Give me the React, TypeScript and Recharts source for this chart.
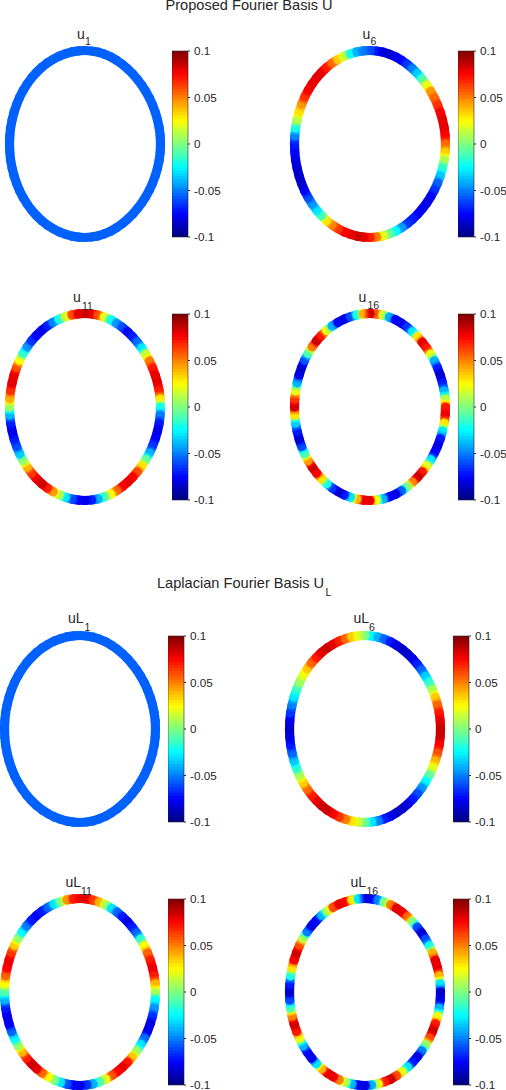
import { ScatterChart, Scatter, XAxis, YAxis, BarChart, Bar } from "recharts";

// ring nodes, clockwise from the top, one every 5 degrees along the ring
// the right half of the outline is a little flatter than the left
const ringX = [
  0, 6.6, 13.1, 19.4, 25.6, 31.5, 37.2, 42.5, 47.6, 52.3, 56.7, 60.7,
  64.4, 67.6, 70.3, 72.5, 74.2, 75.2, 75.5, 75.2, 74.2, 72.5, 70.3, 67.6,
  64.4, 60.7, 56.7, 52.3, 47.6, 42.5, 37.2, 31.5, 25.6, 19.4, 13.1, 6.6,
  0, -6.6, -13.1, -19.5, -25.8, -31.9, -37.8, -43.3, -48.5, -53.4, -57.8, -61.8,
  -65.4, -68.4, -70.9, -72.9, -74.4, -75.2, -75.5, -75.2, -74.4, -72.9, -70.9, -68.4,
  -65.4, -61.8, -57.8, -53.4, -48.5, -43.3, -37.8, -31.9, -25.8, -19.5, -13.1, -6.6,
];
const ringY = [
  93.5, 93, 91.9, 89.8, 87.2, 83.7, 79.8, 75.2, 70.2, 64.8, 58.9, 52.7,
  46.1, 39, 31.7, 24.1, 16.2, 8.1, 0, -8.1, -16.2, -24.1, -31.7, -39,
  -46.1, -52.7, -58.9, -64.8, -70.2, -75.2, -79.8, -83.7, -87.2, -89.8, -91.9, -93,
  -93.5, -93.1, -92.1, -90.3, -87.9, -84.7, -81, -76.6, -71.6, -66.1, -60.1, -53.6,
  -46.8, -39.5, -32, -24.2, -16.2, -8.1, 0, 8.1, 16.2, 24.2, 32, 39.5,
  46.8, 53.6, 60.1, 66.1, 71.6, 76.6, 81, 84.7, 87.9, 90.3, 92.1, 93.1,
];

const u1 = [
  -0.056, -0.056, -0.056, -0.056, -0.056, -0.056, -0.056, -0.056, -0.056, -0.056, -0.056, -0.056,
  -0.056, -0.056, -0.056, -0.056, -0.056, -0.056, -0.056, -0.056, -0.056, -0.056, -0.056, -0.056,
  -0.056, -0.056, -0.056, -0.056, -0.056, -0.056, -0.056, -0.056, -0.056, -0.056, -0.056, -0.056,
  -0.056, -0.056, -0.056, -0.056, -0.056, -0.056, -0.056, -0.056, -0.056, -0.056, -0.056, -0.056,
  -0.056, -0.056, -0.056, -0.056, -0.056, -0.056, -0.056, -0.056, -0.056, -0.056, -0.056, -0.056,
  -0.056, -0.056, -0.056, -0.056, -0.056, -0.056, -0.056, -0.056, -0.056, -0.056, -0.056, -0.056,
];
const u6 = [
  -0.06, -0.07, -0.08, -0.085, -0.08, -0.075, -0.065, -0.05, -0.035, -0.01, 0.02, 0.045,
  0.055, 0.065, 0.075, 0.08, 0.08, 0.075, 0.055, 0.035, 0.01, -0.015, -0.035, -0.055,
  -0.065, -0.075, -0.08, -0.08, -0.075, -0.07, -0.065, -0.045, -0.025, -0.005, 0.02, 0.05,
  0.07, 0.08, 0.085, 0.08, 0.075, 0.065, 0.05, 0.03, -0.01, -0.03, -0.045, -0.06,
  -0.075, -0.085, -0.085, -0.085, -0.08, -0.075, -0.07, -0.05, -0.02, 0.01, 0.03, 0.045,
  0.065, 0.075, 0.08, 0.08, 0.08, 0.07, 0.055, 0.035, 0.015, -0.02, -0.04, -0.05,
];
const u11 = [
  0.085, 0.08, 0.06, 0.02, -0.02, -0.045, -0.06, -0.075, -0.07, -0.055, -0.03, 0.015,
  0.05, 0.07, 0.08, 0.08, 0.07, 0.03, -0.02, -0.05, -0.07, -0.08, -0.075, -0.065,
  -0.04, -0.005, 0.03, 0.06, 0.075, 0.08, 0.075, 0.055, 0.025, -0.01, -0.04, -0.07,
  -0.08, -0.075, -0.06, -0.03, 0.01, 0.045, 0.07, 0.085, 0.08, 0.065, 0.04, 0.005,
  -0.035, -0.06, -0.07, -0.08, -0.07, -0.04, 0.005, 0.04, 0.065, 0.08, 0.08, 0.06,
  0.025, -0.015, -0.045, -0.065, -0.075, -0.08, -0.07, -0.05, -0.02, 0.015, 0.06, 0.08,
];
const u16 = [
  0.085, 0.06, 0.015, -0.04, -0.075, -0.08, -0.065, -0.03, 0.03, 0.08, 0.07, 0.02,
  -0.04, -0.07, -0.085, -0.07, -0.04, 0.01, 0.07, 0.08, 0.03, -0.03, -0.07, -0.08,
  -0.075, -0.03, 0.02, 0.07, 0.085, 0.05, 0, -0.055, -0.08, -0.075, -0.04, 0.02,
  0.08, 0.08, 0.04, -0.03, -0.07, -0.085, -0.065, -0.02, 0.03, 0.075, 0.085, 0.045,
  -0.01, -0.06, -0.085, -0.07, -0.035, 0.03, 0.085, 0.065, 0.02, -0.04, -0.08, -0.085,
  -0.06, -0.01, 0.05, 0.085, 0.07, 0.02, -0.04, -0.075, -0.08, -0.06, -0.02, 0.04,
];
const uL6 = [
  0, -0.025, -0.04, -0.055, -0.07, -0.08, -0.085, -0.085, -0.08, -0.07, -0.055, -0.035,
  -0.015, 0.01, 0.035, 0.055, 0.07, 0.08, 0.085, 0.085, 0.075, 0.06, 0.04, 0.02,
  -0.005, -0.025, -0.045, -0.06, -0.07, -0.08, -0.085, -0.085, -0.08, -0.07, -0.05, -0.03,
  -0.005, 0.015, 0.03, 0.05, 0.065, 0.075, 0.085, 0.085, 0.08, 0.07, 0.055, 0.035,
  0.01, -0.015, -0.035, -0.055, -0.07, -0.08, -0.085, -0.08, -0.065, -0.05, -0.03, -0.015,
  0.005, 0.02, 0.035, 0.055, 0.07, 0.08, 0.085, 0.08, 0.07, 0.055, 0.035, 0.02,
];
const uL11 = [
  0.08, 0.08, 0.065, 0.04, 0.01, -0.03, -0.055, -0.07, -0.08, -0.07, -0.055, -0.015,
  0.025, 0.055, 0.07, 0.08, 0.07, 0.04, 0.01, -0.025, -0.045, -0.065, -0.08, -0.08,
  -0.055, -0.03, 0.005, 0.035, 0.07, 0.08, 0.075, 0.06, 0.02, -0.01, -0.04, -0.065,
  -0.08, -0.075, -0.06, -0.03, 0, 0.025, 0.055, 0.08, 0.085, 0.07, 0.04, 0.005,
  -0.025, -0.055, -0.075, -0.08, -0.07, -0.04, -0.01, 0.025, 0.055, 0.075, 0.08, 0.065,
  0.035, 0.005, -0.025, -0.05, -0.07, -0.075, -0.07, -0.055, -0.03, 0, 0.045, 0.07,
];
const uL16 = [
  -0.08, -0.075, -0.05, 0, 0.05, 0.08, 0.08, 0.055, 0, -0.06, -0.085, -0.06,
  -0.02, 0.04, 0.08, 0.08, 0.04, -0.03, -0.085, -0.08, -0.04, 0.02, 0.07, 0.085,
  0.06, 0.005, -0.05, -0.08, -0.07, -0.03, 0.02, 0.06, 0.085, 0.07, 0.02, -0.04,
  -0.08, -0.08, -0.04, 0.01, 0.05, 0.08, 0.08, 0.04, -0.03, -0.08, -0.075, -0.04,
  0.02, 0.07, 0.085, 0.05, -0.01, -0.06, -0.085, -0.07, -0.02, 0.03, 0.075, 0.085,
  0.06, 0.01, -0.05, -0.08, -0.075, -0.04, 0.01, 0.06, 0.08, 0.075, 0.03, -0.03,
];

const barTicks = [-0.1, -0.05, 0, 0.05, 0.1];
const barRange = [{ name: "u", range: [-0.1, 0.1] }];
const FONT = '"Liberation Sans", Arial, sans-serif';
const TEXT = "#262626";

const panels = [
  { id: "u1", base: "u", sub: "1", values: u1, cx: 85, cy: 144, barX: 172.3, barY: 51, lx: 77, ly: 39, sx: 85, sy: 45 },
  { id: "u6", base: "u", sub: "6", values: u6, cx: 369.7, cy: 143.5, barX: 458, barY: 51, lx: 362.5, ly: 39, sx: 370.5, sy: 45 },
  { id: "u11", base: "u", sub: "11", values: u11, cx: 85, cy: 407, barX: 172.3, barY: 314, lx: 73, ly: 302, sx: 82, sy: 310 },
  { id: "u16", base: "u", sub: "16", values: u16, cx: 369.7, cy: 407, barX: 458, barY: 314, lx: 358.5, ly: 302, sx: 367.5, sy: 309 },
  { id: "uL1", base: "uL", sub: "1", values: u1, cx: 80.3, cy: 729, barX: 168, barY: 636, lx: 68, ly: 623, sx: 84.5, sy: 631 },
  { id: "uL6", base: "uL", sub: "6", values: uL6, cx: 364.7, cy: 729, barX: 453, barY: 636, lx: 353.5, ly: 623, sx: 369, sy: 631 },
  { id: "uL11", base: "uL", sub: "11", values: uL11, cx: 80, cy: 992, barX: 168, barY: 899, lx: 65.5, ly: 887, sx: 81, sy: 895 },
  { id: "uL16", base: "uL", sub: "16", values: uL16, cx: 364.7, cy: 992, barX: 453, barY: 899, lx: 350.5, ly: 887, sx: 366.5, sy: 895 },
];

function clamp(v: number) {
  return Math.max(0, Math.min(1, v));
}

// MATLAB jet, t from 0 to 1
function jet(t: number): string {
  const r = clamp(1.5 - Math.abs(4 * t - 3));
  const g = clamp(1.5 - Math.abs(4 * t - 2));
  const b = clamp(1.5 - Math.abs(4 * t - 1));
  return `rgb(${Math.round(r * 255)},${Math.round(g * 255)},${Math.round(b * 255)})`;
}

function valueColor(v: number) {
  return jet(clamp((v + 0.1) / 0.2));
}

const levels = Array.from({ length: 64 }, (_, i) => i);
const blend = [0, 0.25, 0.5, 0.75, 1];

// one ring node: a thick stroke to the next node, shaded from this value to the next.
// the ring charts are drawn at one pixel per data unit
function Node(props: any) {
  const { cx, cy, payload } = props;
  const x2 = cx + payload.nx - payload.x;
  const y2 = cy - (payload.ny - payload.y);
  const gid = `${payload.id}-${payload.i}`;
  return (
    <g>
      <defs>
        <linearGradient id={gid} gradientUnits="userSpaceOnUse" x1={cx} y1={cy} x2={x2} y2={y2}>
          {blend.map((f) => (
            <stop key={f} offset={f} stopColor={valueColor(payload.v + (payload.nv - payload.v) * f)} />
          ))}
        </linearGradient>
      </defs>
      <line x1={cx} y1={cy} x2={x2} y2={y2} stroke={`url(#${gid})`} strokeWidth={9.2} strokeLinecap="round" />
    </g>
  );
}

function Ring({ id, values, cx, cy }: { id: string; values: number[]; cx: number; cy: number }) {
  const data = values.map((v, i) => {
    const n = (i + 1) % values.length;
    return { id, i, x: ringX[i], y: ringY[i], v, nx: ringX[n], ny: ringY[n], nv: values[n] };
  });
  return (
    <div style={{ position: "absolute", left: cx - 85, top: cy - 100 }}>
      <ScatterChart width={170} height={200} margin={{ top: 0, right: 0, bottom: 0, left: 0 }}>
        <XAxis type="number" dataKey="x" domain={[-85, 85]} hide />
        <YAxis type="number" dataKey="y" domain={[-100, 100]} hide />
        <Scatter data={data} shape={Node} isAnimationActive={false} />
      </ScatterChart>
    </div>
  );
}

function ColorBar({ id, x, y }: { id: string; x: number; y: number }) {
  return (
    <div style={{ position: "absolute", left: x, top: y - 6 }}>
      <BarChart
        width={60}
        height={197}
        data={barRange}
        barCategoryGap={0}
        margin={{ top: 6, right: 0, bottom: 5, left: 0 }}
      >
        <defs>
          <linearGradient id={`jet-${id}`} x1="0" y1="1" x2="0" y2="0">
            {levels.map((i) => [
              <stop key={`${i}a`} offset={i / 64} stopColor={jet((i + 0.5) / 64)} />,
              <stop key={`${i}b`} offset={(i + 1) / 64} stopColor={jet((i + 0.5) / 64)} />,
            ])}
          </linearGradient>
        </defs>
        <XAxis dataKey="name" hide />
        <YAxis
          orientation="right"
          width={44}
          domain={[-0.1, 0.1]}
          ticks={barTicks}
          interval={0}
          axisLine={false}
          tickSize={2}
          tickMargin={4}
          tickLine={{ stroke: TEXT }}
          tick={{ fontSize: 11.7, fill: TEXT, fontFamily: FONT, textAnchor: "start" }}
          tickFormatter={(v: number) => String(v)}
        />
        <Bar dataKey="range" fill={`url(#jet-${id})`} stroke={TEXT} strokeWidth={0.6} isAnimationActive={false} />
      </BarChart>
    </div>
  );
}

export default function App() {
  return (
    <div style={{ position: "absolute", left: 0, top: 0, width: 506, height: 1090, overflow: "hidden", background: "#fff" }}>
      {panels.map((p) => (
        <Ring key={p.id} id={p.id} values={p.values} cx={p.cx} cy={p.cy} />
      ))}
      {panels.map((p) => (
        <ColorBar key={p.id} id={p.id} x={p.barX} y={p.barY} />
      ))}
      <svg width={506} height={1090} style={{ position: "absolute", left: 0, top: 0 }} fontFamily={FONT} fill={TEXT}>
        <text x={165.5} y={10} fontSize={14.6}>Proposed Fourier Basis U</text>
        <text x={157} y={588} fontSize={14.6}>Laplacian Fourier Basis U</text>
        <text x={325.5} y={596} fontSize={10.5}>L</text>
        {panels.map((p) => (
          <g key={p.id}>
            <text x={p.lx} y={p.ly} fontSize={14}>{p.base}</text>
            <text x={p.sx} y={p.sy} fontSize={10.5}>{p.sub}</text>
          </g>
        ))}
      </svg>
    </div>
  );
}
